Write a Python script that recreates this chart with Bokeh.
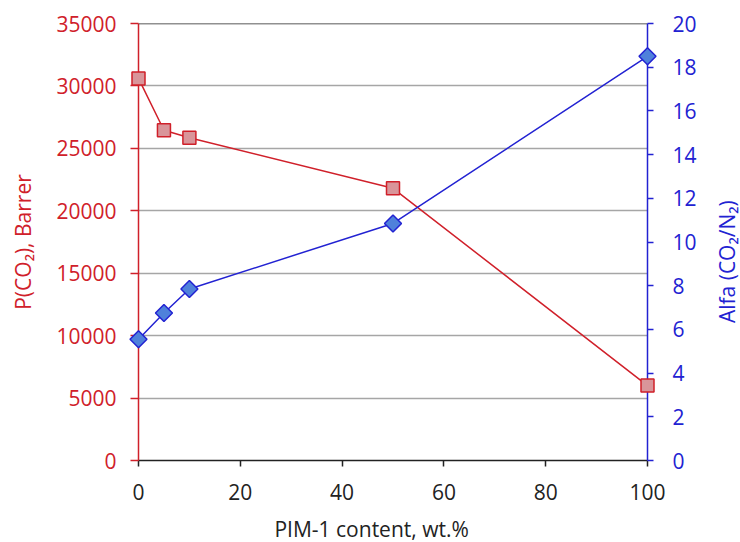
from bokeh.plotting import figure
from bokeh.models import LinearAxis, Range1d, Span, FixedTicker
from bokeh.core.properties import value
from bokeh.embed import file_html
from bokeh.resources import INLINE

# PIM-1 content in the blend (wt.%)
pim_content = [0, 5, 10, 50, 100]
# CO2 permeability, Barrer
p_co2 = [30600, 26450, 25850, 21800, 6000]
# CO2/N2 selectivity
alfa = [5.55, 6.75, 7.85, 10.85, 18.5]

x_ticks = [0, 20, 40, 60, 80, 100]
p_ticks = [0, 5000, 10000, 15000, 20000, 25000, 30000, 35000]
alfa_ticks = [0, 2, 4, 6, 8, 10, 12, 14, 16, 18, 20]

RED = "#d0202a"
BLUE = "#2222d2"
DARK = "#222222"
FONT = "Open Sans"
FS = "21px"

p = figure(width=740, height=542,
           x_range=Range1d(0, 100), y_range=Range1d(0, 35000),
           output_backend="svg", toolbar_location=None,
           min_border_left=138, min_border_right=93,
           min_border_top=23, min_border_bottom=82)
p.extra_y_ranges = {"alfa": Range1d(0, 20)}
p.outline_line_color = None
p.background_fill_color = "white"
p.border_fill_color = "white"

p.xgrid.visible = False
p.ygrid.ticker = FixedTicker(ticks=p_ticks)
p.ygrid.grid_line_color = "#a6a6a6"
p.ygrid.grid_line_width = 1.5

# bottom axis
xa = p.xaxis[0]
xa.ticker = FixedTicker(ticks=x_ticks)
xa.axis_line_color = DARK
xa.axis_line_width = 1.5
xa.major_tick_line_color = DARK
xa.major_tick_line_width = 1.5
xa.major_tick_in = 0
xa.major_tick_out = 6
xa.minor_tick_line_color = None
xa.major_label_text_font = FONT
xa.major_label_text_font_size = FS
xa.major_label_text_color = DARK
xa.major_label_standoff = 17

# left axis: permeability
ya = p.yaxis[0]
ya.ticker = FixedTicker(ticks=p_ticks)
ya.axis_line_color = RED
ya.axis_line_width = 1.5
ya.major_tick_line_color = RED
ya.major_tick_line_width = 1.5
ya.major_tick_in = 0
ya.major_tick_out = 8
ya.minor_tick_line_color = None
ya.major_label_text_font = FONT
ya.major_label_text_font_size = FS
ya.major_label_text_color = RED
ya.major_label_standoff = 14
ya.axis_label = "P(CO\u2082), Barrer"
ya.axis_label_text_font = FONT
ya.axis_label_text_font_size = FS
ya.axis_label_text_font_style = "normal"
ya.axis_label_text_color = RED
ya.axis_label_standoff = 16

# right axis: selectivity
ra = LinearAxis(y_range_name="alfa", ticker=FixedTicker(ticks=alfa_ticks))
ra.axis_line_color = BLUE
ra.axis_line_width = 1.5
ra.major_tick_line_color = BLUE
ra.major_tick_line_width = 1.5
ra.major_tick_in = 0
ra.major_tick_out = 6
ra.minor_tick_line_color = None
ra.major_label_text_font = FONT
ra.major_label_text_font_size = FS
ra.major_label_text_color = BLUE
ra.major_label_standoff = 19
p.add_layout(ra, "right")

# top border line
p.add_layout(Span(location=35000, dimension="width",
                  line_color=DARK, line_width=1.5))

# bottom and right axis titles, drawn as text outside the frame
t1 = p.text(x=[45.8], y=[-5500], text=["PIM-1 content, wt.%"],
            text_align="center", text_baseline="middle",
            text_font=value(FONT), text_font_size=FS, text_color=DARK)
t2 = p.text(x=[115.7], y=[9.1], text=["Alfa (CO\u2082/N\u2082)"],
            y_range_name="alfa", angle=90, angle_units="deg",
            text_align="center", text_baseline="middle",
            text_font=value(FONT), text_font_size=FS, text_color=BLUE)

r1 = p.line(pim_content, p_co2, line_color=RED, line_width=1.5)
r2 = p.scatter(pim_content, p_co2, marker="square", size=13,
               fill_color="#d9959a", line_color=RED, line_width=1.5)
r3 = p.line(pim_content, alfa, y_range_name="alfa",
            line_color=BLUE, line_width=1.5)
r4 = p.scatter(pim_content, alfa, y_range_name="alfa", marker="square",
               angle=45, angle_units="deg", size=12,
               fill_color="#4f81db", line_color=BLUE, line_width=1.5)
for r in (t1, t2, r1, r2, r3, r4):
    r.level = "overlay"

open("out.html", "w").write(file_html(p, INLINE))
